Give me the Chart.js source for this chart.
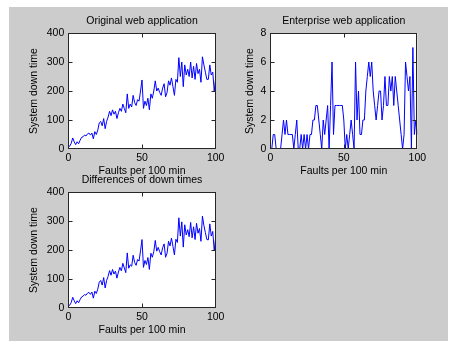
<!DOCTYPE html>
<html>
<head>
<meta charset="utf-8">
<script src="https://cdn.jsdelivr.net/npm/chart.js@4.4.1/dist/chart.umd.min.js"></script>
<style>
  html, body { margin: 0; padding: 0; background: #ffffff; width: 449px; height: 341px; overflow: hidden; }
  #bg { position: absolute; left: 9px; top: 7px; width: 439px; height: 334px; background: #cccccc; }
  canvas { position: absolute; }
</style>
</head>
<body>
<div id="bg"></div>
<canvas id="c1" width="221" height="172" style="left:9px;top:7px;width:221px;height:172px"></canvas>
<canvas id="c2" width="238" height="172" style="left:211px;top:7px;width:238px;height:172px"></canvas>
<canvas id="c3" width="221" height="172" style="left:9px;top:166px;width:221px;height:172px"></canvas>
<script>
// ---------- data ----------
const faults = Array.from({length: 101}, (_, i) => i); // x categories 0..100

const originalDownTime = [
  5, 10, 20, 38, 25, 15, 25, 18, 30, 40,
  42, 48, 45, 52, 55, 48, 55, 35, 60, 50,
  65, 90, 95, 80, 105, 70, 95, 110, 130, 115,
  135, 120, 130, 105, 125, 140, 130, 155, 140, 125,
  190, 140, 155, 145, 185, 160, 150, 170, 165, 200,
  238, 140, 165, 150, 175, 135, 190, 175, 200, 235,
  200, 210, 195, 185, 210, 225, 180, 195, 235, 220,
  245, 215, 185, 240, 230, 315, 250, 300, 215, 290,
  255, 275, 250, 300, 245, 285, 240, 295, 260, 275,
  230, 318, 290, 265, 240, 240, 290, 255, 265, 200,
  245
];

const enterpriseDownTime = [
  0, 0, 1, 1, 0, 0, 0, 0, 1, 2,
  1, 2, 1, 1, 1, 1, 0, 1, 2, 0,
  0, 1, 0, 1, 0, 1, 0, 1, 1, 2,
  2, 3, 3, 2, 1, 0, 2, 1, 2, 3,
  0, 3, 6, 1, 3, 3, 3, 3, 3, 3,
  2, 0, 1, 0, 1, 2, 1, 0, 6, 2,
  4, 1, 1, 2, 2, 4, 5, 6, 5, 6,
  4, 3, 2, 3, 4, 4, 2, 3, 5, 3,
  3, 5, 4, 5, 3, 5, 4, 3, 2, 1,
  0, 1, 6, 5, 4, 5, 0, 7, 1, 2,
  1
];

const differenceDownTime = [
  5, 10, 19, 37, 25, 15, 25, 18, 29, 38,
  41, 46, 44, 51, 54, 47, 55, 34, 58, 50,
  65, 89, 95, 79, 105, 69, 95, 109, 129, 113,
  133, 117, 127, 103, 124, 140, 128, 154, 138, 122,
  190, 137, 149, 144, 182, 157, 147, 167, 162, 197,
  236, 140, 164, 150, 174, 133, 189, 175, 194, 233,
  196, 209, 194, 183, 208, 221, 175, 189, 230, 214,
  241, 212, 183, 237, 226, 311, 248, 297, 210, 287,
  252, 270, 246, 295, 242, 280, 236, 292, 258, 274,
  230, 317, 284, 260, 236, 235, 290, 248, 264, 198,
  244
];

const xTickValues = [0, 50, 100];
const yTicksLarge = [0, 100, 200, 300, 400];
const yTicksSmall = [0, 2, 4, 6, 8];

// ---------- helpers ----------
const FONT = { family: '"Liberation Sans", Arial, sans-serif', size: 10.5 };

const boxPlugin = {
  id: 'matlabBox',
  beforeDraw(chart) {
    const { ctx, chartArea: a } = chart;
    ctx.save();
    ctx.fillStyle = '#ffffff';
    ctx.fillRect(a.left, a.top, a.right - a.left, a.bottom - a.top);
    ctx.restore();
  },
  afterDraw(chart) {
    const { ctx, chartArea: a, scales } = chart;
    ctx.save();
    ctx.strokeStyle = '#262626';
    ctx.lineWidth = 1;
    const L = Math.round(a.left) + 0.5, R = Math.round(a.right) - 0.5;
    const T = Math.round(a.top) + 0.5, B = Math.round(a.bottom) - 0.5;
    ctx.strokeRect(L, T, R - L, B - T);
    const tl = 4;
    ctx.beginPath();
    scales.x.ticks.forEach(t => {
      const px = Math.round(scales.x.getPixelForValue(t.value)) + 0.5;
      if (px <= L + 1 || px >= R - 1) return;
      ctx.moveTo(px, B); ctx.lineTo(px, B - tl);
      ctx.moveTo(px, T); ctx.lineTo(px, T + tl);
    });
    scales.y.ticks.forEach(t => {
      const py = Math.round(scales.y.getPixelForValue(t.value)) + 0.5;
      if (py <= T + 1 || py >= B - 1) return;
      ctx.moveTo(L, py); ctx.lineTo(L + tl, py);
      ctx.moveTo(R, py); ctx.lineTo(R - tl, py);
    });
    ctx.stroke();
    ctx.restore();
  }
};

function makeChart(id, title, values, yMax, yTickVals, rightPad, yTitlePad) {
  const ctx = document.getElementById(id);
  return new Chart(ctx, {
    type: 'line',
    data: {
      datasets: [{
        data: faults.map((x, i) => ({ x: x, y: values[i] })),
        borderColor: '#0000ff',
        borderWidth: 1,
        pointRadius: 0,
        tension: 0,
        fill: false
      }]
    },
    options: {
      responsive: false,
      animation: false,
      devicePixelRatio: 1,
      layout: { padding: { left: 0, right: rightPad, top: 0, bottom: 0 } },
      plugins: {
        legend: { display: false },
        tooltip: { enabled: false },
        title: {
          display: true,
          fullSize: false,
          text: title,
          color: '#000000',
          font: { family: FONT.family, size: FONT.size, weight: 'normal' },
          padding: { top: 7.7, bottom: 5.7 }
        }
      },
      scales: {
        x: {
          type: 'linear',
          min: 0, max: 100,
          afterBuildTicks(scale) { scale.ticks = xTickValues.map(v => ({ value: v })); },
          afterFit(scale) { scale.height = 30; },
          grid: { display: false, drawTicks: false },
          border: { display: false },
          ticks: { color: '#000000', font: FONT, padding: 2.5, maxRotation: 0, autoSkip: false },
          title: {
            display: true, text: 'Faults per 100 min', color: '#000000',
            font: FONT, padding: { top: 0, bottom: 1.5 }
          }
        },
        y: {
          type: 'linear',
          min: 0, max: yMax,
          afterBuildTicks(scale) { scale.ticks = yTickVals.map(v => ({ value: v })); },
          afterFit(scale) { scale.width = 59.3; },
          grid: { display: false, drawTicks: false },
          border: { display: false },
          ticks: { color: '#000000', font: FONT, padding: 4, autoSkip: false },
          title: {
            display: true, text: 'System down time', color: '#000000',
            font: FONT, padding: { top: yTitlePad, bottom: 0 }
          }
        }
      }
    },
    plugins: [boxPlugin]
  });
}

makeChart('c1', 'Original web application', originalDownTime, 400, yTicksLarge, 14.3, 18.7);
makeChart('c2', 'Enterprise web application', enterpriseDownTime, 8, yTicksSmall, 31.7, 32.7);
makeChart('c3', 'Differences of down times', differenceDownTime, 400, yTicksLarge, 14.3, 18.7);
</script>
</body>
</html>
